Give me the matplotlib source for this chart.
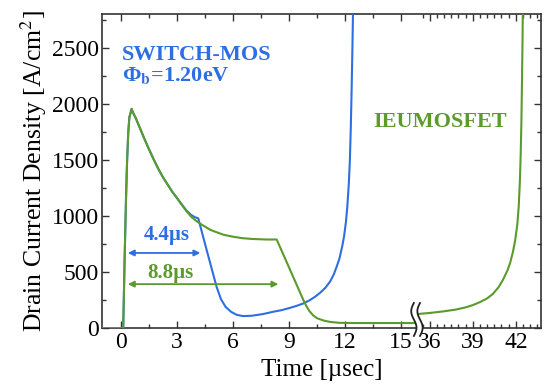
import numpy as np
import matplotlib
matplotlib.use("Agg")
import matplotlib.pyplot as plt
from matplotlib.ticker import FixedLocator, NullFormatter, FixedFormatter

plt.rcParams["font.family"] = ["Liberation Serif", "DejaVu Serif"]
plt.rcParams["mathtext.fontset"] = "stix"

# ---- data (time in usec, current density in A/cm^2) ----
switch_t = [-1.0, 0.12, 0.2, 0.27, 0.33, 0.39, 0.45, 0.5, 0.57, 0.65, 0.8, 1.0,
            1.25, 1.5, 1.75, 2.0, 2.25, 2.5, 2.75, 3.0, 3.25, 3.5, 3.75, 3.95,
            4.14, 4.59, 5.12, 5.35, 5.6, 5.9, 6.2, 6.55, 7.0, 7.6, 8.16, 8.6,
            9.0, 9.4, 9.77, 10.1, 10.4, 10.7, 10.95, 11.2, 11.4, 11.55, 11.7,
            11.85, 11.95, 12.05, 12.12, 12.2, 12.26, 12.31, 12.35, 12.39, 12.43,
            12.46]
switch_j = [0, 0, 650, 1150, 1500, 1740, 1880, 1910, 1955, 1920, 1870, 1790,
            1690, 1595, 1505, 1420, 1345, 1280, 1215, 1160, 1105, 1050, 1010, 990,
            978, 696, 369, 260, 190, 145, 118, 107, 110, 125, 146, 160,
            178, 198, 220, 248, 280, 320, 360, 415, 480, 547, 620,
            730, 820, 950, 1080, 1280, 1500, 1800, 2100, 2450, 2850,
            3000]

ieu_t1 = [-1.0, 0.12, 0.2, 0.27, 0.33, 0.39, 0.45, 0.5, 0.57, 0.65, 0.8, 1.0,
          1.25, 1.5, 1.75, 2.0, 2.25, 2.5, 2.75, 3.0, 3.25, 3.5, 3.75, 4.0,
          4.25, 4.5, 4.8, 5.2, 5.5, 6.0, 6.5, 7.0, 7.8, 8.34, 9.05, 9.77,
          9.95, 10.1, 10.3, 10.5, 10.84, 11.2, 11.7, 12.5, 15.85]
ieu_j1 = [0, 0, 650, 1150, 1500, 1740, 1880, 1910, 1955, 1920, 1870, 1790,
          1690, 1595, 1505, 1420, 1345, 1280, 1215, 1160, 1100, 1045, 995, 960,
          930, 905, 875, 850, 832, 815, 802, 795, 790, 790, 522, 250,
          190, 150, 112, 88, 68, 55, 47, 45, 45]

ieu_t2 = [35.1, 36.0, 37.0, 37.8, 38.5, 39.0, 39.5, 40.0, 40.4, 40.8, 41.1,
          41.4, 41.6, 41.8, 41.95, 42.1, 42.2, 42.28, 42.34, 42.39, 42.43,
          42.47, 42.5]
ieu_j2 = [125, 135, 150, 165, 185, 205, 232, 265, 305, 365, 430,
          510, 580, 680, 780, 920, 1080, 1300, 1550, 1850, 2200,
          2600, 3000]

x_major = [0, 3, 6, 9, 12, 15, 36, 39, 42]
x_minor = [1.5, 4.5, 7.5, 10.5, 13.5] + [35.5 + 0.5 * i for i in range(17)]

BLUE = "#2d6fe0"
GREEN = "#5a9b2c"

# broken time axis: 15.85 -> 35.1 is cut out, second part compressed
BRK_LO, BRK_HI, R = 15.85, 35.1, 0.7676


def fwd(t):
    t = np.asarray(t, dtype=float)
    return np.where(t <= BRK_LO, t,
                    np.where(t >= BRK_HI, BRK_LO + (t - BRK_HI) * R, BRK_LO))


def inv(u):
    u = np.asarray(u, dtype=float)
    return np.where(u <= BRK_LO, u, BRK_HI + (u - BRK_LO) / R)


fig = plt.figure(figsize=(5.45, 3.86), dpi=100)
ax = fig.add_axes([0.187, 0.150, 0.8055, 0.8135])
ax.set_xscale("function", functions=(fwd, inv))

ax.plot(switch_t, switch_j, color=BLUE, lw=1.5, zorder=3)
ax.plot(ieu_t1, ieu_j1, color=GREEN, lw=1.5, zorder=4)
ax.plot(ieu_t2, ieu_j2, color=GREEN, lw=1.5, zorder=4)

xmin, xmax = -1.02, 43.75
ax.set_xlim(xmin, xmax)
ax.set_ylim(0, 2800)

ax.xaxis.set_major_locator(FixedLocator(x_major))
ax.xaxis.set_major_formatter(FixedFormatter([str(v) for v in x_major]))
ax.xaxis.set_minor_locator(FixedLocator(x_minor))
ax.xaxis.set_minor_formatter(NullFormatter())
ax.yaxis.set_major_locator(FixedLocator([0, 500, 1000, 1500, 2000, 2500]))
ax.yaxis.set_minor_locator(FixedLocator([250, 750, 1250, 1750, 2250, 2750]))

ax.tick_params(which="both", direction="in", top=True, right=True,
               labelsize=17, width=1.0, color="#333333")
ax.tick_params(which="major", length=5)
ax.tick_params(which="minor", length=3)
ax.tick_params(axis="y", pad=2)
ax.tick_params(axis="x", pad=3)
for s in ax.spines.values():
    s.set_linewidth(1.2)
    s.set_color("#333333")

ax.set_xlabel("Time [µsec]", fontsize=18, labelpad=4)
ax.set_ylabel("Drain Current Density [A/cm$^2$]", fontsize=18.5, labelpad=2)

# labels
ax.text(0.05, 2390, "SWITCH-MOS", color=BLUE, fontsize=16, fontweight="bold",
        ha="left", va="baseline")
ax.text(0.05, 2205, "Φ$_\\mathbf{b}$=1.20eV", color=BLUE, fontsize=16,
        fontweight="bold", ha="left", va="baseline")
ax.text(13.5, 1840, "IEUMOSFET", color=GREEN, fontsize=16, fontweight="bold",
        ha="left", va="center")

# pulse width arrows
ax.annotate("", xy=(4.25, 670), xytext=(0.37, 670),
            arrowprops=dict(arrowstyle="<|-|>", color=BLUE, lw=1.3,
                            mutation_scale=9, shrinkA=0, shrinkB=0))
ax.text(2.46, 834, "4.4µs", color=BLUE, fontsize=15, fontweight="bold",
        ha="center", va="center")
ax.annotate("", xy=(8.43, 392), xytext=(0.37, 392),
            arrowprops=dict(arrowstyle="<|-|>", color=GREEN, lw=1.3,
                            mutation_scale=9, shrinkA=0, shrinkB=0))
ax.text(2.62, 490, "8.8µs", color=GREEN, fontsize=15, fontweight="bold",
        ha="center", va="center")

# break marks on the time axis
ul, uh = float(fwd(xmin)), float(fwd(xmax))
bx = (BRK_LO - ul) / (uh - ul)
yy = np.linspace(-0.025, 0.08, 60)
wob = 0.006 * np.sin(2 * np.pi * (yy + 0.025) / 0.105)
gap = 0.007
ax.fill_betweenx(yy, bx - gap + wob, bx + gap + wob, color="white",
                 transform=ax.transAxes, clip_on=False, zorder=6, lw=0)
for off in (-gap, gap):
    ax.plot(bx + off + wob, yy, color="#222222", lw=1.3,
            transform=ax.transAxes, clip_on=False, zorder=7)

fig.savefig("out.png", dpi=100)
